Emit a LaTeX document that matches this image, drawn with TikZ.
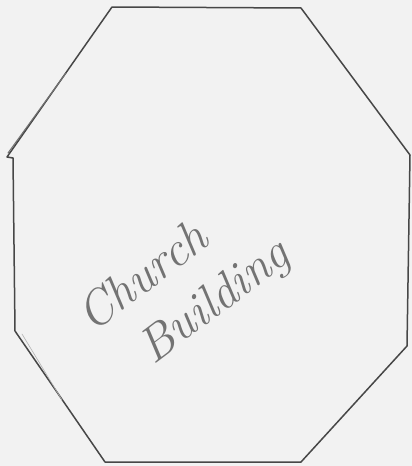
\documentclass[tikz,border=0pt]{standalone}
\begin{document}
\begin{tikzpicture}[x=1pt,y=-1pt,line cap=round,line join=round]
  \tikzset{wall/.style={line width=1.5pt,draw=black!72},
    scrawl/.style={text=black!55,align=left,inner sep=0pt,
      font=\itshape\fontsize{49}{62}\selectfont}}
  \fill[black!5] (0,0) rectangle (412,466);
  \useasboundingbox (0,0) rectangle (412,466);
  \draw[wall] (112,7) -- (301,8) -- (410,155) -- (407,346) -- (301,462)
    -- (105,462) -- (15,331) -- (13,158) -- (7,157) -- cycle;
  \draw[line width=1pt,draw=black!55] (66,73) -- (8,153);
  \draw[line width=0.6pt,draw=black!30] (22,334) -- (62,400);
  \node[scrawl,rotate=37] (label) at (185,287) {Church\\\hspace{0.6em}Building};
\end{tikzpicture}
\end{document}
